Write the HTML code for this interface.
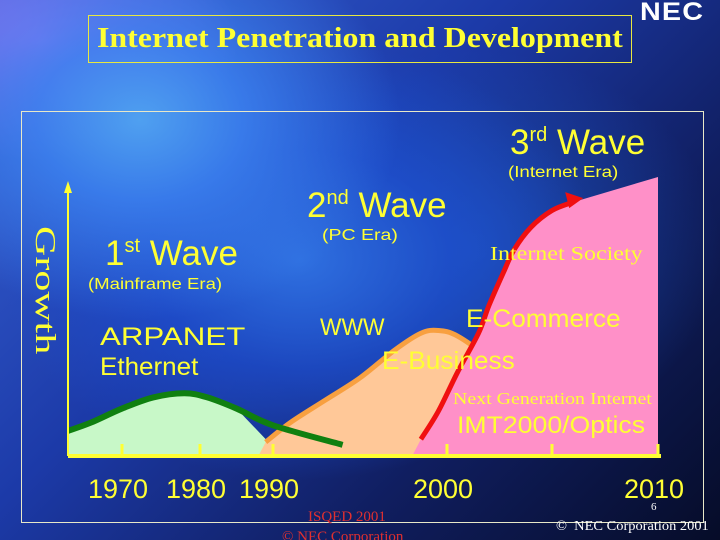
<!DOCTYPE html>
<html><head><meta charset="utf-8"><style>
html{background:#0a1440;width:720px;height:540px;overflow:hidden}
html,body{margin:0;padding:0}
body{width:720px;height:540px;overflow:hidden;position:relative;font-family:"Liberation Sans",sans-serif;
background:
radial-gradient(ellipse 260px 200px at 140px 120px,#4fa0f0 0%,rgba(60,130,240,.85) 40%,rgba(40,80,200,0) 100%),
radial-gradient(ellipse 200px 120px at 40px 40px,#9a70f0 0%,rgba(140,100,240,0) 100%),
radial-gradient(ellipse 300px 220px at 300px 260px,#2f70e0 0%,rgba(30,80,210,.7) 50%,rgba(20,40,140,0) 100%),
radial-gradient(ellipse 250px 200px at 470px 250px,rgba(30,90,200,.7) 0%,rgba(20,40,140,0) 100%),
linear-gradient(135deg,#3a66d8 0%,#1c3aa8 40%,#101e60 70%,#060c28 100%);}
.t{position:absolute;color:#ffff33;white-space:nowrap;line-height:1;transform-origin:left top}
.s{font-family:"Liberation Serif",serif}
svg{position:absolute;left:0;top:0}
</style></head><body>
<div class="t" style="left:640px;top:0px;color:#fff;font-weight:bold;font-size:25px;letter-spacing:1px;transform:scaleX(1.15)">NEC</div>
<div style="position:absolute;left:88px;top:15px;width:542px;height:46px;border:1px solid #e8e840;"></div>
<div class="t s" style="left:97px;top:25px;font-size:28px;font-weight:bold;transform:scaleX(1.14)">Internet Penetration and Development</div>
<div style="position:absolute;left:21px;top:111px;width:681px;height:410px;border:1px solid #e8e8c8;"></div>

<svg width="720" height="540">
<g id="marks"></g>
</svg>

<div class="t" style="left:510px;top:125px;font-size:35px">3<sup style="font-size:20px;vertical-align:13px">rd</sup> Wave</div>
<div class="t" style="left:508px;top:165px;font-size:16px;transform:scaleX(1.17)">(Internet Era)</div>
<div class="t" style="left:307px;top:188px;font-size:35px">2<sup style="font-size:20px;vertical-align:13px">nd</sup> Wave</div>
<div class="t" style="left:322px;top:228px;font-size:16px;transform:scaleX(1.22)">(PC Era)</div>
<div class="t" style="left:105px;top:236px;font-size:35px">1<sup style="font-size:20px;vertical-align:13px">st</sup> Wave</div>
<div class="t" style="left:88px;top:277px;font-size:16px;transform:scaleX(1.16)">(Mainframe Era)</div>
<div class="t s" style="left:30px;top:226px;font-size:28px;writing-mode:vertical-rl;transform:scaleY(1.5)">Growth</div>
<div class="t" style="left:100px;top:325px;font-size:25px;transform:scaleX(1.25)">ARPANET</div>
<div class="t" style="left:100px;top:355px;font-size:25px;transform:scaleX(1.04)">Ethernet</div>
<div class="t" style="left:320px;top:316px;font-size:24px;transform:scaleX(0.95)">WWW</div>
<div class="t" style="left:466px;top:307px;font-size:25px;transform:scaleX(1.05)">E-Commerce</div>
<div class="t" style="left:382px;top:349px;font-size:25px;transform:scaleX(1.05)">E-Business</div>
<div class="t s" style="left:490px;top:244px;font-size:20px;transform:scaleX(1.2)">Internet Society</div>
<div class="t s" style="left:453px;top:390px;font-size:17px;transform:scaleX(1.17)">Next Generation Internet</div>
<div class="t" style="left:457px;top:414px;font-size:24px;transform:scaleX(1.11)">IMT2000/Optics</div>
<div class="t s" style="left:651px;top:502px;font-size:11px;color:#fff">6</div>
<div class="t s" style="left:308px;top:510px;font-size:15px;color:#e03030">ISQED 2001</div>
<div class="t s" style="left:282px;top:530px;font-size:15px;color:#e03030">© NEC Corporation</div>
<div class="t s" style="left:556px;top:520px;font-size:14px;color:#fff;transform:scaleX(1.03)">©&nbsp; NEC Corporation 2001</div>

<script>
const tickYears=[1970,1980,1990,2000,2005,2010];
const tickLabels=["1970","1980","1990","2000","","2010"];
const greenYears=[1963,1966,1970,1974,1978,1981,1985,1990,1994];
const greenVals=[9,12,17,21,22.5,21,17,11,4];
const orangeYears=[1989,1991,1993,1995,1997,1998.5,1999.5,2000.5,2002,2003];
const orangeVals=[5,12,20,28,38,44,45,43,35,28];
const redYears=[1998.5,1999.5,2000.5,2001.5,2002,2002.7,2003.2,2004,2005,2006];
const redVals=[6,16,30,44,54,66,74,82,88,91];
const pinkTopYears=[2006,2010];
const pinkTopVals=[92,100];

const kYears=[1963,1970,1980,1990,2000,2005,2010];
const kPx=[68,122,200,273,447,552,658];
function xs(y){for(let i=0;i<kYears.length-1;i++){if(y<=kYears[i+1]||i==kYears.length-2){const t=(y-kYears[i])/(kYears[i+1]-kYears[i]);return kPx[i]+t*(kPx[i+1]-kPx[i]);}}}
const Y0=456,Y100=177;
function ys(v){return Y0-v*(Y0-Y100)/100;}
const NS="http://www.w3.org/2000/svg";
const g=document.getElementById('marks');
function mk(tag,attrs){const e=document.createElementNS(NS,tag);for(const k in attrs)e.setAttribute(k,attrs[k]);g.appendChild(e);return e;}
function smooth(pts){let d="M"+pts[0][0]+","+pts[0][1];for(let i=1;i<pts.length;i++){const p0=pts[i-2]||pts[i-1],p1=pts[i-1],p2=pts[i],p3=pts[i+1]||p2;
const c1=[p1[0]+(p2[0]-p0[0])/6,p1[1]+(p2[1]-p0[1])/6],c2=[p2[0]-(p3[0]-p1[0])/6,p2[1]-(p3[1]-p1[1])/6];
d+=" C"+c1[0]+","+c1[1]+" "+c2[0]+","+c2[1]+" "+p2[0]+","+p2[1];}return d;}
const gp=greenYears.map((y,i)=>[xs(y),ys(greenVals[i])]);
const op=orangeYears.map((y,i)=>[xs(y),ys(orangeVals[i])]);
const rp=redYears.map((y,i)=>[xs(y),ys(redVals[i])]);
let e=mk('path',{d:smooth(gp.slice(0,7))+" L"+xs(1990.5)+","+Y0+" L68,"+Y0+" Z",fill:"#c8f8c8"});


const ofill=[[xs(1988),Y0]].concat(op).concat([[xs(2003),Y0]]);
e=mk('polygon',{points:ofill.map(p=>p[0]+","+p[1]).join(" "),fill:"#ffc898"});


e=mk('path',{d:smooth(op),fill:"none",stroke:"#f8a040","stroke-width":5});


e=mk('path',{d:smooth(rp)+" L"+xs(2010)+","+ys(pinkTopVals[1])+" L"+xs(2010)+","+Y0+" L"+xs(1998)+","+Y0+" L"+rp[0][0]+","+rp[0][1]+" Z",fill:"#ff90c8"});


e=mk('path',{d:smooth(gp),fill:"none",stroke:"#108010","stroke-width":6});


e=mk('path',{d:smooth(rp),fill:"none",stroke:"#f01010","stroke-width":5});


const tip=rp[rp.length-1];
e=mk('polygon',{points:(tip[0]+10)+","+(tip[1]-4)+" "+(tip[0]-8)+","+(tip[1]-10)+" "+(tip[0]-4)+","+(tip[1]+6),fill:"#f01010"});


e=mk('line',{x1:68,y1:Y0,x2:661,y2:Y0,stroke:"#ffff33","stroke-width":4});


e=mk('line',{x1:68,y1:Y0,x2:68,y2:186,stroke:"#ffff33","stroke-width":2});


e=mk('polygon',{points:"68,181 64,193 72,193",fill:"#ffff33"});


tickYears.forEach((yr,i)=>{
 const x=xs(yr);
 let t=mk('line',{x1:x,y1:Y0,x2:x,y2:Y0-12,stroke:"#ffff33","stroke-width":3});
 
 
 if(tickLabels[i]){
 let l=mk('text',{x:x-4,y:498,"text-anchor":"middle",fill:"#ffff33","font-size":27,"font-family":"Liberation Sans, sans-serif"});
 l.textContent=tickLabels[i];
 
 }
});
</script>
</body></html>
